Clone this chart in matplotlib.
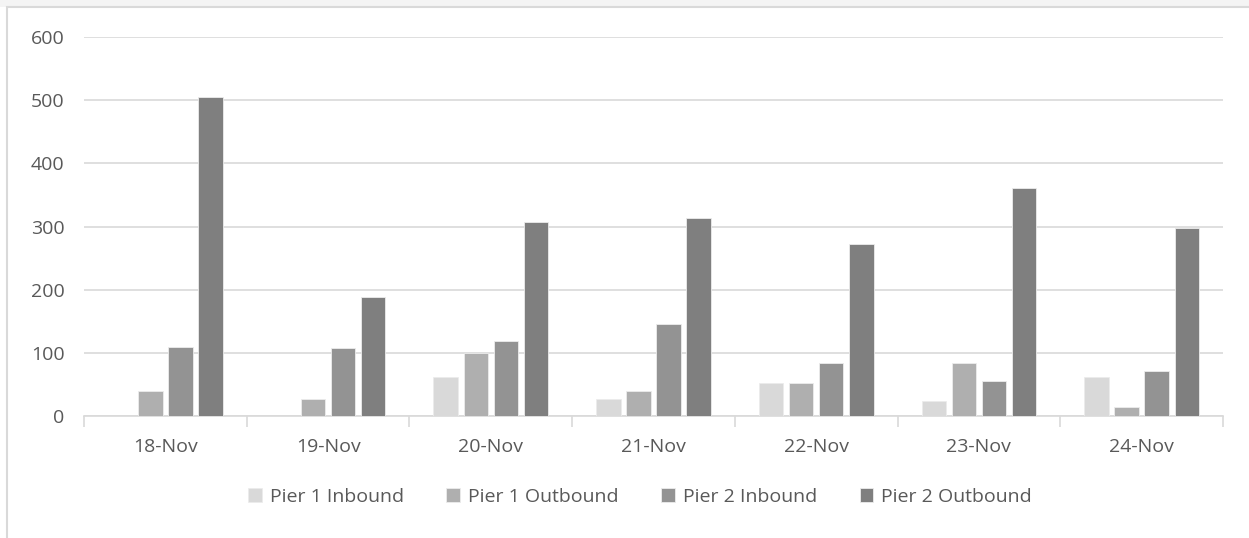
import numpy as np
import matplotlib
matplotlib.use("Agg")
import matplotlib.pyplot as plt
from matplotlib.patches import Rectangle

# Daily vehicle counts per pier and direction
days = ["18-Nov", "19-Nov", "20-Nov", "21-Nov", "22-Nov", "23-Nov", "24-Nov"]
series_names = ["Pier 1 Inbound", "Pier 1 Outbound", "Pier 2 Inbound", "Pier 2 Outbound"]
pier1_inbound = [0, 0, 62, 27, 53, 24, 62]
pier1_outbound = [40, 27, 100, 40, 53, 84, 15]
pier2_inbound = [110, 107, 119, 145, 84, 56, 72]
pier2_outbound = [505, 189, 307, 314, 272, 361, 298]
y_ticks = [0, 100, 200, 300, 400, 500, 600]

colors = ["#d9d9d9", "#afafaf", "#939393", "#7f7f7f"]
text_color = "#595959"
grid_color = "#d9d9d9"

plt.rcParams["font.family"] = ["Open Sans", "DejaVu Sans"]

fig = plt.figure(figsize=(12.49, 5.38), dpi=100)
W, H = 1249, 538

# Chart area frame and band above it (behind everything else)
fig.patches.append(Rectangle((0, 1 - 7 / H), 1, 7 / H, transform=fig.transFigure,
                             facecolor="#f4f4f4", edgecolor="none", zorder=-5))
fig.patches.append(Rectangle((7 / W, -0.1), 1.2, 1.1 - 7 / H, transform=fig.transFigure,
                             facecolor="white", edgecolor="#d9d9d9", linewidth=1.5,
                             zorder=-4))

ax = fig.add_axes([84 / W, 1 - 416 / H, (1223 - 84) / W, (416 - 37) / H])
ax.patch.set_alpha(0)

x = np.arange(len(days))
bar_w = 0.15
pitch = 0.185
all_series = [pier1_inbound, pier1_outbound, pier2_inbound, pier2_outbound]
for i, (vals, name, col) in enumerate(zip(all_series, series_names, colors)):
    offset = (i - 1.5) * pitch
    ax.bar(x + offset, vals, width=bar_w, color=col, label=name,
           edgecolor="#ececec", linewidth=0.6, zorder=3)

ax.set_xlim(-0.5, len(days) - 0.5)
ax.set_ylim(0, 600)
ax.set_yticks(y_ticks)
ax.set_yticklabels([str(v) for v in y_ticks])
ax.set_xticks(x)
ax.set_xticklabels(days)
ax.set_xticks(np.arange(-0.5, len(days), 1.0), minor=True)

ax.tick_params(axis="y", length=0, pad=14, labelsize=14, labelcolor=text_color)
ax.tick_params(axis="x", which="major", length=0, pad=16, labelsize=14,
               labelcolor=text_color)
ax.tick_params(axis="x", which="minor", length=8, width=1.2, color=grid_color)

ax.yaxis.grid(True, color=grid_color, linewidth=1.2, zorder=0)
ax.set_axisbelow(True)
for side in ["left", "right", "top"]:
    ax.spines[side].set_visible(False)
ax.spines["bottom"].set_color(grid_color)
ax.spines["bottom"].set_linewidth(1.2)

leg = fig.legend(loc="center", bbox_to_anchor=(640 / W, 1 - 497 / H), ncol=4,
                 frameon=False, fontsize=14, handlelength=0.7, handleheight=0.7,
                 handletextpad=0.4, columnspacing=2.2)
for t in leg.get_texts():
    t.set_color(text_color)

fig.savefig("out.png", dpi=100)
